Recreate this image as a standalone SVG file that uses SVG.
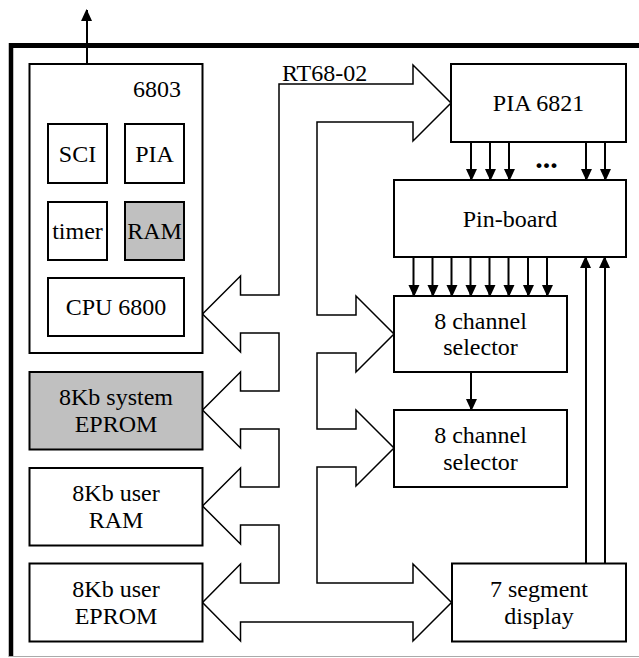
<svg xmlns="http://www.w3.org/2000/svg" width="639" height="658" viewBox="0 0 639 658">
<style>
.box{fill:#fff;stroke:#000;stroke-width:2}
.gray{fill:#c0c0c0;stroke:#000;stroke-width:2}
.ln{stroke:#000;stroke-width:2;fill:none}
.bus{fill:#fff;stroke:#000;stroke-width:1.5;stroke-linejoin:miter}
</style>
<defs>
<marker id="ah" markerUnits="userSpaceOnUse" markerWidth="12" markerHeight="13" refX="12" refY="6.5" orient="auto" viewBox="0 0 13 12">
<path d="M0,0 L13,6 L0,12 Z" fill="#000"/>
</marker>
</defs>
<rect width="639" height="658" fill="#fff"/>
<g id="frame">
<line x1="9" y1="45.5" x2="639" y2="45.5" stroke="#000" stroke-width="5"/>
<line x1="11" y1="43" x2="11" y2="657" stroke="#000" stroke-width="4.5"/>
<line x1="9" y1="656.5" x2="639" y2="656.5" stroke="#aaa" stroke-width="1"/>
</g>
<g id="connectors">
<path class="bus" d="M240.5,295 L279,295 L279,84 L413,84 L413,65 L451,103 L413,141 L413,122 L317,122 L317,315 L356,315 L356,296 L394,334 L356,372 L356,353 L317,353 L317,429 L356,429 L356,410 L394,448 L356,486 L356,467 L317,467 L317,583 L413,583 L413,564 L451.5,602.5 L413,641 L413,622 L240.5,622 L240.5,641 L202.5,602.5 L240.5,564 L240.5,583 L279,583 L279,525 L240.5,525 L240.5,544 L202.5,506 L240.5,468 L240.5,487 L279,487 L279,429 L240.5,429 L240.5,448 L202.5,410 L240.5,372 L240.5,391 L279,391 L279,333 L240.5,333 L240.5,352 L202.5,314 L240.5,276 Z"/>
<line class="ln" x1="87" y1="124" x2="87" y2="10" marker-end="url(#ah)"/>
<line class="ln" x1="471" y1="142" x2="471" y2="180" marker-end="url(#ah)"/>
<line class="ln" x1="490" y1="142" x2="490" y2="180" marker-end="url(#ah)"/>
<line class="ln" x1="509" y1="142" x2="509" y2="180" marker-end="url(#ah)"/>
<line class="ln" x1="586" y1="142" x2="586" y2="180" marker-end="url(#ah)"/>
<line class="ln" x1="605" y1="142" x2="605" y2="180" marker-end="url(#ah)"/>
<line class="ln" x1="413.5" y1="257" x2="413.5" y2="296" marker-end="url(#ah)"/>
<line class="ln" x1="432.5" y1="257" x2="432.5" y2="296" marker-end="url(#ah)"/>
<line class="ln" x1="451.5" y1="257" x2="451.5" y2="296" marker-end="url(#ah)"/>
<line class="ln" x1="470.5" y1="257" x2="470.5" y2="296" marker-end="url(#ah)"/>
<line class="ln" x1="489.5" y1="257" x2="489.5" y2="296" marker-end="url(#ah)"/>
<line class="ln" x1="508.5" y1="257" x2="508.5" y2="296" marker-end="url(#ah)"/>
<line class="ln" x1="528" y1="257" x2="528" y2="296" marker-end="url(#ah)"/>
<line class="ln" x1="547" y1="257" x2="547" y2="296" marker-end="url(#ah)"/>
<line class="ln" x1="586" y1="563" x2="586" y2="257" marker-end="url(#ah)"/>
<line class="ln" x1="605" y1="563" x2="605" y2="257" marker-end="url(#ah)"/>
<line class="ln" x1="471" y1="372" x2="471" y2="410" marker-end="url(#ah)"/>
<g font-family="Liberation Serif" font-size="24" fill="#000">
<text x="282" y="80.5">RT68-02</text>
<text x="546.5" y="168" font-size="30" font-weight="bold" text-anchor="middle">...</text>
</g>
</g>
<g id="nodes" font-family="Liberation Serif" font-size="24" text-anchor="middle">
<g id="mcu6803"><rect class="box" x="29.5" y="64" width="173" height="289"/><text x="157" y="97">6803</text></g>
<g id="sci"><rect class="box" x="48" y="124" width="59" height="59"/><text x="77.5" y="161.5">SCI</text></g>
<g id="pia"><rect class="box" x="125" y="124" width="59" height="59"/><text x="154.5" y="161.5">PIA</text></g>
<g id="timer"><rect class="box" x="48" y="202" width="59" height="58"/><text x="77.5" y="238.5">timer</text></g>
<g id="ram"><rect class="gray" x="125" y="202" width="59" height="58"/><text x="154.5" y="238.5">RAM</text></g>
<g id="cpu"><rect class="box" x="48" y="278" width="136" height="58"/><text x="116" y="315">CPU 6800</text></g>
<g id="sysEprom"><rect class="gray" x="29.5" y="372" width="173" height="77.5"/><text x="116" y="405">8Kb system</text><text x="116" y="432">EPROM</text></g>
<g id="userRam"><rect class="box" x="29.5" y="468" width="173" height="77.5"/><text x="116" y="501">8Kb user</text><text x="116" y="528">RAM</text></g>
<g id="userEprom"><rect class="box" x="29.5" y="563.5" width="173" height="78"/><text x="116" y="597">8Kb user</text><text x="116" y="624">EPROM</text></g>
<g id="pia6821"><rect class="box" x="451" y="64" width="175" height="78"/><text x="538.5" y="111">PIA 6821</text></g>
<g id="pinboard"><rect class="box" x="394" y="180" width="232" height="77"/><text x="510" y="226.5">Pin-board</text></g>
<g id="sel1"><rect class="box" x="394" y="296" width="173" height="76"/><text x="480.5" y="329">8 channel</text><text x="480.5" y="355">selector</text></g>
<g id="sel2"><rect class="box" x="394" y="410" width="173" height="77"/><text x="480.5" y="443">8 channel</text><text x="480.5" y="469.5">selector</text></g>
<g id="seg7"><rect class="box" x="452" y="563.5" width="174" height="78"/><text x="539" y="597">7 segment</text><text x="539" y="623.5">display</text></g>
</g>
</svg>
